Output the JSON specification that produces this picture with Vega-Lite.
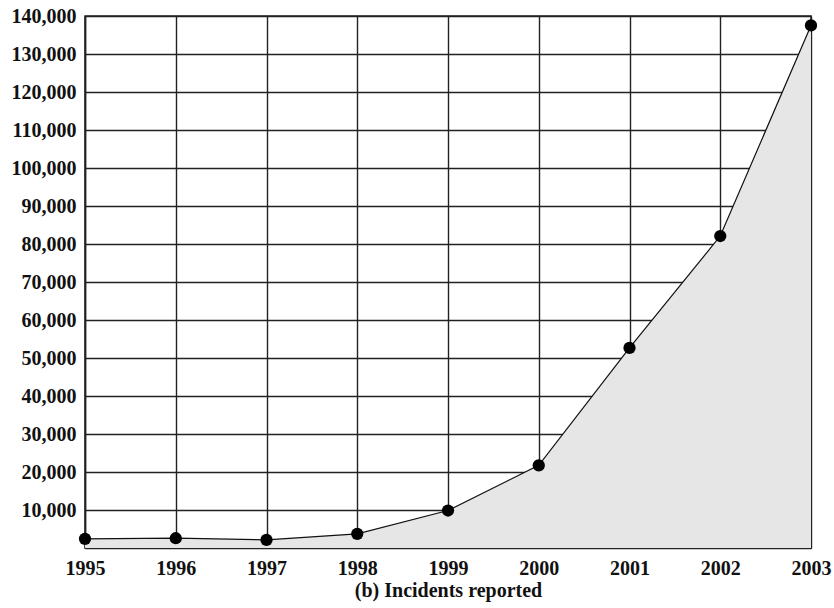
{
  "$schema": "https://vega.github.io/schema/vega-lite/v6.json",
  "autosize": "none",
  "width": 726,
  "height": 532,
  "padding": {"left": 85, "top": 16, "right": 23, "bottom": 60},
  "background": "white",
  "data": {"values": [
    {"year": 1995, "incidents": 2412},
    {"year": 1996, "incidents": 2573},
    {"year": 1997, "incidents": 2134},
    {"year": 1998, "incidents": 3734},
    {"year": 1999, "incidents": 9859},
    {"year": 2000, "incidents": 21756},
    {"year": 2001, "incidents": 52658},
    {"year": 2002, "incidents": 82094},
    {"year": 2003, "incidents": 137529}
  ]},
  "config": {
    "font": "Liberation Serif",
    "view": {"stroke": "#222", "strokeWidth": 1.5},
    "axis": {
      "labelFont": "Liberation Serif",
      "labelFontWeight": "bold",
      "labelFontSize": 20,
      "labelColor": "#111",
      "ticks": false,
      "domainColor": "#222",
      "domainWidth": 1.5,
      "gridColor": "#222",
      "gridWidth": 1.4,
      "gridOpacity": 1,
      "titleFont": "Liberation Serif",
      "titleFontWeight": "bold",
      "titleFontSize": 20,
      "titleColor": "#111"
    }
  },
  "encoding": {
    "x": {
      "field": "year", "type": "quantitative",
      "scale": {"domain": [1995, 2003], "nice": false, "zero": false},
      "axis": {"values": [1995,1996,1997,1998,1999,2000,2001,2002,2003], "format": "d", "labelPadding": 10, "title": "(b) Incidents reported", "titlePadding": 2, "labelFlush": false}
    },
    "y": {
      "field": "incidents", "type": "quantitative",
      "scale": {"domain": [0, 140000], "nice": false},
      "axis": {"values": [10000,20000,30000,40000,50000,60000,70000,80000,90000,100000,110000,120000,130000,140000], "format": ",d", "labelPadding": 9, "title": null}
    }
  },
  "layer": [
    {"mark": {"type": "area", "color": "#e6e6e6", "opacity": 1}},
    {"mark": {"type": "line", "color": "#111", "strokeWidth": 1.2}},
    {"mark": {"type": "point", "filled": true, "color": "#000", "size": 150, "opacity": 1}}
  ]
}
